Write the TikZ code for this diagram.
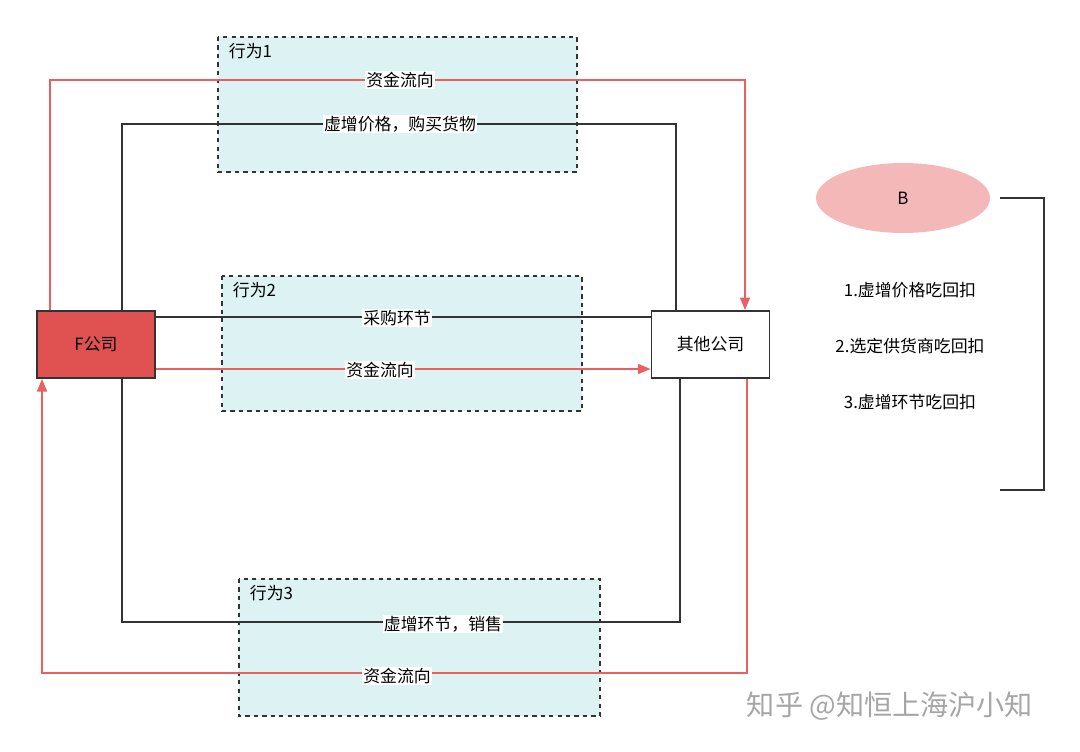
\documentclass[tikz,border=0pt]{standalone}
\usepackage{fontspec}
\setmainfont{Noto Sans CJK SC}
\usetikzlibrary{arrows.meta, shapes.geometric}
\definecolor{boxfill}{HTML}{DDF3F3}
\definecolor{fred}{HTML}{E05252}
\definecolor{lred}{HTML}{E86060}
\definecolor{pinkB}{HTML}{F4B8B8}
\definecolor{dline}{HTML}{333333}

\tikzset{
  act/.style={draw=dline, dashed, line width=1.2pt, fill=boxfill},
  actlabel/.style={anchor=north west, font=\fontsize{12}{14}\selectfont},
  firm/.style={draw=dline, line width=1.2pt, minimum width=118*0.025cm, minimum height=67*0.025cm, font=\fontsize{12}{14}\selectfont},
  goods/.style={draw=dline, line width=1.3pt},
  money/.style={draw=lred, line width=1.3pt},
  arr/.style={-{Triangle[length=9pt,width=7pt]}},
  lbl/.style={fill=white, inner sep=1pt, font=\fontsize{12}{14}\selectfont},
  txt/.style={font=\fontsize{12}{14}\selectfont}
}

\begin{document}
\begin{tikzpicture}[x=0.025cm, y=-0.025cm]
    \useasboundingbox (0,0) rectangle (1080,751);

    % dashed boxes
    \draw[act] (218,37) rectangle (577,172);
    \node[actlabel] (act1) at (224,38) {行为1};
    \draw[act] (222,276) rectangle (582,411);
    \node[actlabel] (act2) at (228,277) {行为2};
    \draw[act] (239,579) rectangle (600,716);
    \node[actlabel] (act3) at (245,580) {行为3};

    % companies
    \node[firm, fill=fred] (F) at (96,344.5) {F公司};
    \node[firm, fill=white] (O) at (710.5,344.5) {其他公司};

    \coordinate (t1) at (50,80);   \coordinate (t2) at (745,80);
    \coordinate (g1) at (122,124); \coordinate (g2) at (676,124);
    \coordinate (b1) at (122,622); \coordinate (b2) at (680,622);
    \coordinate (r1) at (747,673); \coordinate (r2) at (42,673);
    \coordinate (h1) at (155,317); \coordinate (h2) at (651,317);
    \coordinate (s1) at (155,369); \coordinate (s2) at (651,369);

    % behaviour 1
    \draw[money, arr] (F.north west -| t1) -- (t1) -- (t2) -- (t2 |- O.north);
    \node[lbl] (m1) at (400,80) {资金流向};
    \draw[goods] (F.north -| g1) -- (g1) -- (g2) -- (O.north -| g2);
    \node[lbl] (p1) at (400,124) {虚增价格，购买货物};

    % behaviour 2
    \draw[goods] (F.east |- h1) -- (O.west |- h2);
    \node[lbl] (p2) at (397,318) {采购环节};
    \draw[money, arr] (F.east |- s1) -- (O.west |- s2);
    \node[lbl] (m2) at (380,370) {资金流向};

    % behaviour 3
    \draw[goods] (F.south -| b1) -- (b1) -- (b2) -- (O.south -| b2);
    \node[lbl] (p3) at (443,624) {虚增环节，销售};
    \draw[money, arr] (O.south -| r1) -- (r1) -- (r2) -- (F.south -| r2);
    \node[lbl] (m3) at (397,676) {资金流向};

    % right side
    \node[ellipse, fill=pinkB, minimum width=174*0.025cm, minimum height=70*0.025cm, txt] (B) at (903,198) {B};
    \coordinate (k1) at (1000,198); \coordinate (k2) at (1044,198);
    \coordinate (k3) at (1044,490); \coordinate (k4) at (1000,490);
    \draw[goods] (k1) -- (k2) -- (k3) -- (k4);
    \node[txt] (w1) at (910,290) {1.虚增价格吃回扣};
    \node[txt] (w2) at (910,346) {2.选定供货商吃回扣};
    \node[txt] (w3) at (910,402) {3.虚增环节吃回扣};

    \node[font=\fontsize{20}{24}\selectfont, text=gray!70] (wm) at (890,706) {知乎 @知恒上海沪小知};
\end{tikzpicture}
\end{document}
